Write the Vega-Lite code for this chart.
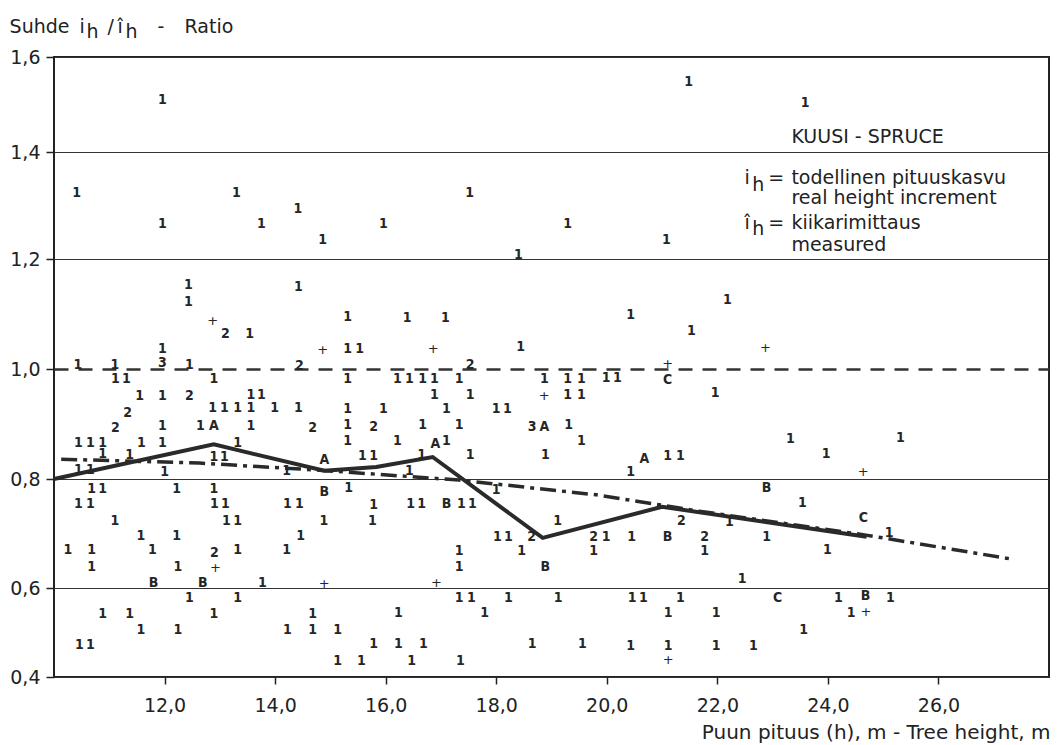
{
  "$schema": "https://vega.github.io/schema/vega-lite/v6.json",
  "width": 995,
  "height": 620,
  "autosize": {"type": "none"},
  "padding": {"left": 54, "top": 57, "right": 12, "bottom": 68},
  "background": "white",
  "config": {
    "view": {"stroke": "#222", "strokeWidth": 2},
    "font": "DejaVu Sans",
    "axis": {"labelColor": "#222", "titleColor": "#222", "tickColor": "#222", "labelFont": "DejaVu Sans", "titleFont": "DejaVu Sans", "titleFontWeight": "normal"}
  },
  "datasets": {
    "pts": [
      {"x":11.96,"y":1.509,"t":"1"},{"x":10.41,"y":1.323,"t":"1"},{"x":11.96,"y":1.265,"t":"1"},{"x":13.30,"y":1.323,"t":"1"},
      {"x":13.75,"y":1.265,"t":"1"},{"x":14.41,"y":1.293,"t":"1"},{"x":14.86,"y":1.236,"t":"1"},{"x":15.96,"y":1.265,"t":"1"},
      {"x":17.52,"y":1.323,"t":"1"},{"x":18.40,"y":1.207,"t":"1"},{"x":19.29,"y":1.265,"t":"1"},{"x":21.08,"y":1.236,"t":"1"},
      {"x":21.48,"y":1.547,"t":"1"},{"x":23.59,"y":1.503,"t":"1"},
      {"x":12.43,"y":1.153,"t":"1"},{"x":12.43,"y":1.122,"t":"1"},{"x":14.42,"y":1.149,"t":"1"},{"x":12.87,"y":1.087,"t":"+"},
      {"x":13.10,"y":1.064,"t":"2"},{"x":13.54,"y":1.064,"t":"1"},{"x":11.96,"y":1.036,"t":"1"},{"x":14.86,"y":1.035,"t":"+"},
      {"x":10.43,"y":1.007,"t":"1"},{"x":11.10,"y":1.007,"t":"1"},{"x":11.96,"y":1.011,"t":"3"},{"x":12.45,"y":1.007,"t":"1"},
      {"x":14.44,"y":1.005,"t":"2"},{"x":11.11,"y":0.982,"t":"1"},{"x":11.31,"y":0.982,"t":"1"},{"x":12.89,"y":0.982,"t":"1"},
      {"x":11.55,"y":0.951,"t":"1"},{"x":11.96,"y":0.951,"t":"1"},{"x":12.45,"y":0.951,"t":"2"},{"x":13.56,"y":0.953,"t":"1"},
      {"x":13.75,"y":0.953,"t":"1"},{"x":11.33,"y":0.920,"t":"2"},{"x":12.87,"y":0.929,"t":"1"},{"x":13.08,"y":0.929,"t":"1"},
      {"x":13.32,"y":0.929,"t":"1"},{"x":13.56,"y":0.929,"t":"1"},{"x":13.99,"y":0.929,"t":"1"},{"x":14.42,"y":0.929,"t":"1"},
      {"x":11.11,"y":0.893,"t":"2"},{"x":11.96,"y":0.896,"t":"1"},{"x":12.65,"y":0.896,"t":"1"},{"x":12.89,"y":0.896,"t":"A"},
      {"x":13.56,"y":0.896,"t":"1"},{"x":14.68,"y":0.893,"t":"2"},{"x":10.44,"y":0.865,"t":"1"},{"x":10.66,"y":0.865,"t":"1"},
      {"x":10.88,"y":0.865,"t":"1"},{"x":11.58,"y":0.865,"t":"1"},{"x":11.96,"y":0.865,"t":"1"},{"x":13.32,"y":0.865,"t":"1"},
      {"x":10.88,"y":0.845,"t":"1"},{"x":11.37,"y":0.844,"t":"1"},{"x":12.89,"y":0.840,"t":"1"},{"x":13.08,"y":0.840,"t":"1"},
      {"x":14.89,"y":0.835,"t":"A"},{"x":10.44,"y":0.816,"t":"1"},{"x":10.66,"y":0.816,"t":"1"},{"x":12.00,"y":0.813,"t":"1"},
      {"x":14.21,"y":0.815,"t":"1"},
      {"x":15.31,"y":1.095,"t":"1"},{"x":16.39,"y":1.093,"t":"1"},{"x":17.08,"y":1.093,"t":"1"},{"x":15.31,"y":1.036,"t":"1"},
      {"x":15.53,"y":1.036,"t":"1"},{"x":16.86,"y":1.036,"t":"+"},{"x":18.44,"y":1.040,"t":"1"},{"x":17.53,"y":1.007,"t":"2"},
      {"x":15.31,"y":0.982,"t":"1"},{"x":16.21,"y":0.982,"t":"1"},{"x":16.43,"y":0.982,"t":"1"},{"x":16.67,"y":0.982,"t":"1"},
      {"x":16.88,"y":0.982,"t":"1"},{"x":17.33,"y":0.982,"t":"1"},{"x":18.87,"y":0.982,"t":"1"},{"x":19.29,"y":0.982,"t":"1"},
      {"x":19.54,"y":0.982,"t":"1"},{"x":16.88,"y":0.953,"t":"1"},{"x":17.53,"y":0.953,"t":"1"},{"x":18.87,"y":0.951,"t":"+"},
      {"x":19.29,"y":0.953,"t":"1"},{"x":19.54,"y":0.953,"t":"1"},{"x":15.31,"y":0.927,"t":"1"},{"x":15.96,"y":0.927,"t":"1"},
      {"x":17.10,"y":0.927,"t":"1"},{"x":18.00,"y":0.927,"t":"1"},{"x":18.20,"y":0.927,"t":"1"},{"x":15.31,"y":0.898,"t":"1"},
      {"x":15.78,"y":0.895,"t":"2"},{"x":16.67,"y":0.898,"t":"1"},{"x":17.33,"y":0.898,"t":"1"},{"x":18.65,"y":0.895,"t":"3"},
      {"x":18.87,"y":0.895,"t":"A"},{"x":19.31,"y":0.898,"t":"1"},{"x":15.31,"y":0.869,"t":"1"},{"x":16.21,"y":0.869,"t":"1"},
      {"x":16.90,"y":0.864,"t":"A"},{"x":17.10,"y":0.869,"t":"1"},{"x":19.54,"y":0.869,"t":"1"},{"x":15.58,"y":0.842,"t":"1"},
      {"x":15.78,"y":0.842,"t":"1"},{"x":16.65,"y":0.844,"t":"1"},{"x":17.53,"y":0.844,"t":"1"},{"x":18.89,"y":0.844,"t":"1"},
      {"x":16.43,"y":0.815,"t":"1"},
      {"x":22.18,"y":1.125,"t":"1"},{"x":20.43,"y":1.098,"t":"1"},{"x":21.53,"y":1.069,"t":"1"},{"x":22.87,"y":1.038,"t":"+"},
      {"x":19.99,"y":0.984,"t":"1"},{"x":20.19,"y":0.984,"t":"1"},{"x":21.10,"y":1.009,"t":"+"},{"x":21.10,"y":0.980,"t":"C"},
      {"x":21.96,"y":0.956,"t":"1"},{"x":23.32,"y":0.873,"t":"1"},{"x":25.31,"y":0.875,"t":"1"},{"x":20.68,"y":0.836,"t":"A"},
      {"x":21.10,"y":0.842,"t":"1"},{"x":21.33,"y":0.842,"t":"1"},{"x":23.97,"y":0.845,"t":"1"},{"x":20.43,"y":0.813,"t":"1"},
      {"x":24.64,"y":0.813,"t":"+"},
      {"x":22.89,"y":0.783,"t":"B"},{"x":23.54,"y":0.756,"t":"1"},{"x":24.64,"y":0.728,"t":"C"},{"x":21.35,"y":0.723,"t":"2"},
      {"x":22.22,"y":0.721,"t":"1"},{"x":19.76,"y":0.694,"t":"2"},{"x":19.99,"y":0.694,"t":"1"},{"x":20.45,"y":0.694,"t":"1"},
      {"x":21.10,"y":0.694,"t":"B"},{"x":21.77,"y":0.694,"t":"2"},{"x":22.89,"y":0.694,"t":"1"},{"x":25.11,"y":0.701,"t":"1"},
      {"x":19.76,"y":0.668,"t":"1"},{"x":21.77,"y":0.668,"t":"1"},{"x":23.99,"y":0.670,"t":"1"},{"x":22.45,"y":0.617,"t":"1"},
      {"x":20.46,"y":0.578,"t":"1"},{"x":20.66,"y":0.578,"t":"1"},{"x":21.33,"y":0.578,"t":"1"},{"x":23.09,"y":0.578,"t":"C"},
      {"x":24.19,"y":0.578,"t":"1"},{"x":24.68,"y":0.582,"t":"B"},{"x":25.13,"y":0.578,"t":"1"},{"x":21.11,"y":0.544,"t":"1"},
      {"x":21.98,"y":0.544,"t":"1"},{"x":24.42,"y":0.544,"t":"1"},{"x":24.69,"y":0.546,"t":"+"},{"x":23.56,"y":0.506,"t":"1"},
      {"x":20.43,"y":0.470,"t":"1"},{"x":21.11,"y":0.470,"t":"1"},{"x":21.98,"y":0.470,"t":"1"},{"x":22.65,"y":0.470,"t":"1"},
      {"x":21.11,"y":0.438,"t":"+"},
      {"x":10.68,"y":0.782,"t":"1"},{"x":10.88,"y":0.782,"t":"1"},{"x":12.22,"y":0.782,"t":"1"},{"x":12.89,"y":0.782,"t":"1"},
      {"x":14.89,"y":0.776,"t":"B"},{"x":10.44,"y":0.754,"t":"1"},{"x":10.66,"y":0.754,"t":"1"},{"x":12.90,"y":0.754,"t":"1"},
      {"x":13.10,"y":0.754,"t":"1"},{"x":14.22,"y":0.754,"t":"1"},{"x":14.44,"y":0.754,"t":"1"},{"x":11.10,"y":0.723,"t":"1"},
      {"x":13.12,"y":0.723,"t":"1"},{"x":13.32,"y":0.723,"t":"1"},{"x":14.88,"y":0.723,"t":"1"},{"x":11.57,"y":0.695,"t":"1"},
      {"x":12.22,"y":0.695,"t":"1"},{"x":14.46,"y":0.695,"t":"1"},{"x":10.25,"y":0.670,"t":"1"},{"x":10.68,"y":0.670,"t":"1"},
      {"x":11.78,"y":0.670,"t":"1"},{"x":12.90,"y":0.664,"t":"2"},{"x":13.32,"y":0.670,"t":"1"},{"x":14.21,"y":0.670,"t":"1"},
      {"x":10.68,"y":0.639,"t":"1"},{"x":12.24,"y":0.639,"t":"1"},{"x":12.92,"y":0.637,"t":"+"},{"x":11.80,"y":0.609,"t":"B"},
      {"x":12.69,"y":0.609,"t":"B"},{"x":13.77,"y":0.609,"t":"1"},{"x":14.89,"y":0.607,"t":"+"},{"x":12.45,"y":0.578,"t":"1"},
      {"x":13.32,"y":0.578,"t":"1"},{"x":10.88,"y":0.542,"t":"1"},{"x":11.37,"y":0.542,"t":"1"},{"x":12.89,"y":0.542,"t":"1"},
      {"x":14.68,"y":0.542,"t":"1"},{"x":11.57,"y":0.506,"t":"1"},{"x":12.24,"y":0.506,"t":"1"},{"x":14.22,"y":0.506,"t":"1"},
      {"x":14.68,"y":0.506,"t":"1"},{"x":10.46,"y":0.472,"t":"1"},{"x":10.66,"y":0.472,"t":"1"},
      {"x":15.33,"y":0.783,"t":"1"},{"x":15.78,"y":0.752,"t":"1"},{"x":16.45,"y":0.754,"t":"1"},{"x":16.65,"y":0.754,"t":"1"},
      {"x":17.10,"y":0.754,"t":"B"},{"x":17.37,"y":0.754,"t":"1"},{"x":17.57,"y":0.754,"t":"1"},{"x":18.00,"y":0.780,"t":"1"},
      {"x":15.76,"y":0.723,"t":"1"},{"x":19.11,"y":0.723,"t":"1"},{"x":18.02,"y":0.694,"t":"1"},{"x":18.22,"y":0.694,"t":"1"},
      {"x":18.64,"y":0.694,"t":"2"},{"x":17.33,"y":0.668,"t":"1"},{"x":18.46,"y":0.668,"t":"1"},{"x":17.33,"y":0.639,"t":"1"},
      {"x":18.89,"y":0.639,"t":"B"},{"x":16.92,"y":0.609,"t":"+"},{"x":17.33,"y":0.578,"t":"1"},{"x":17.55,"y":0.578,"t":"1"},
      {"x":18.22,"y":0.578,"t":"1"},{"x":19.12,"y":0.578,"t":"1"},{"x":16.23,"y":0.544,"t":"1"},{"x":17.79,"y":0.544,"t":"1"},
      {"x":15.13,"y":0.506,"t":"1"},{"x":15.78,"y":0.474,"t":"1"},{"x":16.23,"y":0.474,"t":"1"},{"x":16.68,"y":0.474,"t":"1"},
      {"x":18.65,"y":0.474,"t":"1"},{"x":19.56,"y":0.474,"t":"1"},{"x":15.13,"y":0.436,"t":"1"},{"x":15.56,"y":0.436,"t":"1"},
      {"x":16.47,"y":0.436,"t":"1"},{"x":17.35,"y":0.436,"t":"1"}
    ],
    "solid": [
      {"x":10.0,"y":0.800},{"x":12.89,"y":0.863},{"x":14.89,"y":0.815},{"x":15.83,"y":0.822},
      {"x":16.85,"y":0.840},{"x":18.84,"y":0.692},{"x":21.0,"y":0.749},{"x":24.7,"y":0.694}
    ],
    "dashdot": [
      {"x":10.13,"y":0.836},{"x":12.63,"y":0.829},{"x":14.80,"y":0.816},{"x":17.33,"y":0.798},
      {"x":19.81,"y":0.771},{"x":21.67,"y":0.741},{"x":24.69,"y":0.697},{"x":27.33,"y":0.653}
    ],
    "notes": [
      {"x":23.34,"y":1.419,"t":"KUUSI - SPRUCE"},
      {"x":22.49,"y":1.340,"t":"i"},
      {"x":22.63,"y":1.327,"t":"h"},
      {"x":22.92,"y":1.340,"t":"="},
      {"x":23.34,"y":1.340,"t":"todellinen pituuskasvu"},
      {"x":23.34,"y":1.303,"t":"real height increment"},
      {"x":22.49,"y":1.256,"t":"î"},
      {"x":22.63,"y":1.245,"t":"h"},
      {"x":22.92,"y":1.256,"t":"="},
      {"x":23.34,"y":1.256,"t":"kiikarimittaus"},
      {"x":23.34,"y":1.215,"t":"measured"},
      {"x":9.197,"y":1.6505,"t":"Suhde"},
      {"x":10.463,"y":1.6505,"t":"i"},
      {"x":10.59,"y":1.640,"t":"h"},
      {"x":10.969,"y":1.6505,"t":"/"},
      {"x":11.15,"y":1.6505,"t":"î"},
      {"x":11.295,"y":1.640,"t":"h"},
      {"x":11.873,"y":1.6505,"t":"-"},
      {"x":12.362,"y":1.6505,"t":"Ratio"}
    ]
  },
  "encoding": {
    "x": {
      "field": "x", "type": "quantitative",
      "scale": {"domain": [10, 28], "nice": false, "zero": false},
      "axis": {
        "values": [12, 14, 16, 18, 20, 22, 24, 26],
        "labelExpr": "replace(format(datum.value, '.1f'), '.', ',')",
        "grid": false, "domain": false,
        "tickSize": 7, "tickWidth": 1.5, "labelPadding": 12, "labelFontSize": 19,
        "title": "Puun pituus (h), m - Tree height, m",
        "titleFontSize": 20, "titleX": 996, "titleY": 61, "titleAlign": "right", "titleBaseline": "alphabetic"
      }
    },
    "y": {
      "field": "y", "type": "quantitative",
      "scale": {"domain": [0.4, 0.6, 0.8, 1.0, 1.2, 1.4, 1.6], "range": [620, 531, 422, 312, 202, 95, 0], "nice": false, "zero": false},
      "axis": {
        "values": [0.4, 0.6, 0.8, 1.0, 1.2, 1.4, 1.6],
        "labelExpr": "replace(format(datum.value, '.1f'), '.', ',')",
        "domain": false,
        "grid": true,
        "gridColor": "#333",
        "gridWidth": {"condition": {"test": "abs(datum.value - 1) < 0.01", "value": 2.5}, "value": 1.2},
        "gridDash": {"condition": {"test": "abs(datum.value - 1) < 0.01", "value": [14, 10]}, "value": []},
        "tickSize": 8, "tickWidth": 1.5, "labelPadding": 6, "labelFontSize": 19,
        "title": null
      }
    }
  },
  "layer": [
    {
      "data": {"name": "dashdot"},
      "mark": {"type": "line", "color": "#2a2a2a", "strokeWidth": 3.5, "strokeDash": [16, 6, 4, 6], "strokeCap": "butt"}
    },
    {
      "data": {"name": "solid"},
      "mark": {"type": "line", "color": "#2a2a2a", "strokeWidth": 4, "strokeJoin": "miter"}
    },
    {
      "data": {"name": "pts"},
      "transform": [{"filter": "datum.t !== '+'"}],
      "mark": {"type": "text", "font": "DejaVu Sans Condensed", "fontWeight": "bold", "fontSize": 14, "align": "center", "baseline": "middle", "color": "#262626", "fill": "#262626"},
      "encoding": {"text": {"field": "t", "type": "nominal"}}
    },
    {
      "data": {"name": "pts"},
      "transform": [{"filter": "datum.t === '+'"}],
      "mark": {"type": "text", "font": "DejaVu Sans", "fontWeight": "normal", "fontSize": 13, "align": "center", "baseline": "middle", "color": "#262626", "fill": "#262626"},
      "encoding": {"text": {"field": "t", "type": "nominal"}}
    },
    {
      "data": {"name": "notes"},
      "mark": {"type": "text", "font": "DejaVu Sans", "fontSize": 19, "align": "left", "baseline": "alphabetic", "color": "#222", "fill": "#222"},
      "encoding": {"text": {"field": "t", "type": "nominal"}}
    }
  ]
}
